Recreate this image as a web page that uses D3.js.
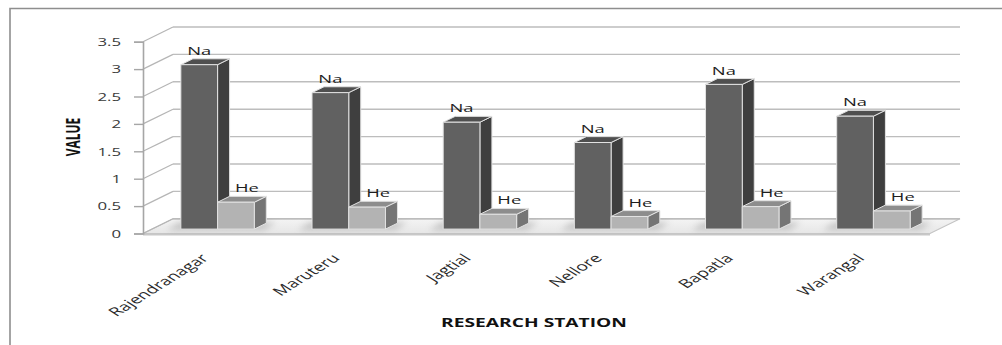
<!DOCTYPE html>
<html>
<head>
<meta charset="utf-8">
<script src="https://cdn.jsdelivr.net/npm/d3@7"></script>
<style>
  html, body { margin: 0; padding: 0; background: #fff; }
  svg { display: block; }
  text { font-family: "Open Sans", "DejaVu Sans", sans-serif; }
</style>
</head>
<body>
<svg id="chart" width="1002" height="345"></svg>
<script>
// Sodium and helium readings per research station
const categories = ["Rajendranagar", "Maruteru", "Jagtial", "Nellore", "Bapatla", "Warangal"];
const seriesNames = ["Na", "He"];
const naValues = [3.0, 2.49, 1.95, 1.58, 2.64, 2.06];
const heValues = [0.49, 0.40, 0.27, 0.23, 0.41, 0.33];
const yTicks = [0, 0.5, 1, 1.5, 2, 2.5, 3, 3.5];
const yTickLabels = ["0", "0.5", "1", "1.5", "2", "2.5", "3", "3.5"];
const yTitle = "VALUE";
const xTitle = "RESEARCH STATION";

const svg = d3.select("#chart");
const S = 1.6;                // horizontal text stretch of the drawing
const plotLeft = 143, plotRight = 930;
const depthX = 30, depthY = -14.7;   // 3-D wall depth
const barZ0 = 0.3, barZ1 = 0.7;      // bars sit in the middle of the depth

const x = d3.scaleBand().domain(categories).range([plotLeft, plotRight]).paddingInner(0).paddingOuter(0);
const bw = x.bandwidth();
const gw = bw * 0.56;
const xs = d3.scaleBand().domain(seriesNames).range([(bw - gw) / 2, (bw + gw) / 2]).padding(0);
const y = d3.scaleLinear().domain([0, 3.5]).range([233.5, 41.7]);

const colors = {
  Na: { front: "#616161", side: "#3f3f3f", top: "#4f4f4f" },
  He: { front: "#b3b3b3", side: "#757575", top: "#8d8d8d" }
};

// chart frame
svg.append("path")
  .attr("d", `M10,345 L10,8.5 L1002,8.5`)
  .attr("fill", "none").attr("stroke", "#8e8e8e").attr("stroke-width", 1.6);

// defs: blur for floor shadows, floor gradient
const defs = svg.append("defs");
defs.append("filter").attr("id", "soft").attr("x", "-50%").attr("y", "-50%").attr("width", "200%").attr("height", "200%")
  .append("feGaussianBlur").attr("stdDeviation", 3);
const fg = defs.append("linearGradient").attr("id", "floorGrad").attr("x1", 0).attr("y1", 0).attr("x2", 0).attr("y2", 1);
fg.append("stop").attr("offset", "0%").attr("stop-color", "#f4f4f4");
fg.append("stop").attr("offset", "100%").attr("stop-color", "#e6e6e6");

// floor
const y0 = y(0);
svg.append("path")
  .attr("d", `M${plotLeft},${y0} L${plotRight},${y0} L${plotRight + depthX},${y0 + depthY} L${plotLeft + depthX},${y0 + depthY} Z`)
  .attr("fill", "url(#floorGrad)").attr("stroke", "#c4c4c4").attr("stroke-width", 1.2);
svg.append("line")
  .attr("x1", plotLeft).attr("x2", plotRight).attr("y1", y0 + 1).attr("y2", y0 + 1)
  .attr("stroke", "#c8c8c8").attr("stroke-width", 2);

// back wall gridlines and side wall diagonals
const grid = svg.append("g");
yTicks.forEach(t => {
  const yy = y(t);
  grid.append("line")
    .attr("x1", plotLeft + depthX).attr("x2", plotRight + depthX)
    .attr("y1", yy + depthY).attr("y2", yy + depthY)
    .attr("stroke", "#bdbdbd").attr("stroke-width", 1.4);
  grid.append("line")
    .attr("x1", plotLeft).attr("x2", plotLeft + depthX)
    .attr("y1", yy).attr("y2", yy + depthY)
    .attr("stroke", "#b5b5b5").attr("stroke-width", 1.2);
});

// y axis
const yAxis = d3.axisLeft(y).tickValues(yTicks).tickSize(9).tickFormat((d, i) => yTickLabels[i]);
const ga = svg.append("g").attr("transform", `translate(${plotLeft},0)`).call(yAxis);
ga.select(".domain").attr("stroke", "#a6a6a6").attr("stroke-width", 1.6);
ga.selectAll(".tick line").attr("stroke", "#a6a6a6").attr("stroke-width", 1.4);
ga.selectAll(".tick text")
  .attr("x", null).attr("dy", "0.36em")
  .attr("transform", "translate(-22,0) scale(" + S + ",1)")
  .attr("font-size", 10.5).attr("fill", "#3a3a3a")
  .attr("font-family", "'Open Sans', sans-serif");

// bars
const data = [];
categories.forEach((c, i) => {
  data.push({ cat: c, s: "Na", v: naValues[i] });
  data.push({ cat: c, s: "He", v: heValues[i] });
});

const fx = barZ0 * depthX, fy = barZ0 * depthY;   // front-face offset
const bx = barZ1 * depthX, by = barZ1 * depthY;   // back-face offset

// floor shadows
const shadows = svg.append("g").attr("filter", "url(#soft)").attr("opacity", 0.35);
categories.forEach(c => {
  const gx = x(c) + xs("Na") + fx;
  shadows.append("path")
    .attr("d", `M${gx - 14},${y0 + fy + 1} L${gx + gw + 10},${y0 + fy + 1} L${gx + gw + 22},${y0 + by - 1} L${gx - 2},${y0 + by - 1} Z`)
    .attr("fill", "#777");
});

const bars = svg.append("g");
data.forEach(d => {
  const w = xs.bandwidth();
  const xl = x(d.cat) + xs(d.s) + fx;
  const xr = xl + w;
  const yb = y(0) + fy;
  const yt = y(d.v) + fy;
  const dxd = bx - fx, dyd = by - fy;
  const c = colors[d.s];
  const g = bars.append("g").attr("stroke", "#e2e2e2").attr("stroke-width", 1).attr("stroke-linejoin", "round");
  g.append("path").attr("d", `M${xr},${yb} L${xr + dxd},${yb + dyd} L${xr + dxd},${yt + dyd} L${xr},${yt} Z`).attr("fill", c.side);
  g.append("path").attr("d", `M${xl},${yt} L${xr},${yt} L${xr + dxd},${yt + dyd} L${xl + dxd},${yt + dyd} Z`).attr("fill", c.top);
  g.append("rect").attr("x", xl).attr("y", yt).attr("width", w).attr("height", yb - yt).attr("fill", c.front);
});

// series labels above each bar
data.forEach(d => {
  const w = xs.bandwidth();
  const xl = x(d.cat) + xs(d.s) + fx;
  const cx = xl + w / 2 + (d.s === "He" ? 11 : 0);
  const yy = y(d.v) + by - 4;
  svg.append("text")
    .attr("transform", `translate(${cx},${yy}) scale(${S},1)`)
    .attr("text-anchor", "middle")
    .attr("font-size", 11.5).attr("fill", "#1e1e1e")
    .text(d.s);
});

// category labels, rotated
categories.forEach(c => {
  const cx = x(c) + bw / 2 + 1;
  svg.append("text")
    .attr("transform", `translate(${cx},259) scale(${S},1) rotate(-45)`)
    .attr("text-anchor", "end")
    .attr("font-size", 12).attr("fill", "#2a2a2a")
    .text(c);
});

// axis titles
svg.append("text")
  .attr("transform", `translate(80,137) scale(${S},1) rotate(-90)`)
  .attr("text-anchor", "middle")
  .attr("font-size", 12).attr("font-weight", "bold").attr("fill", "#111")
  .text(yTitle);

svg.append("text")
  .attr("transform", `translate(534,327) scale(${S},1)`)
  .attr("text-anchor", "middle")
  .attr("font-size", 12).attr("font-weight", "bold").attr("fill", "#111")
  .text(xTitle);
</script>
</body>
</html>
